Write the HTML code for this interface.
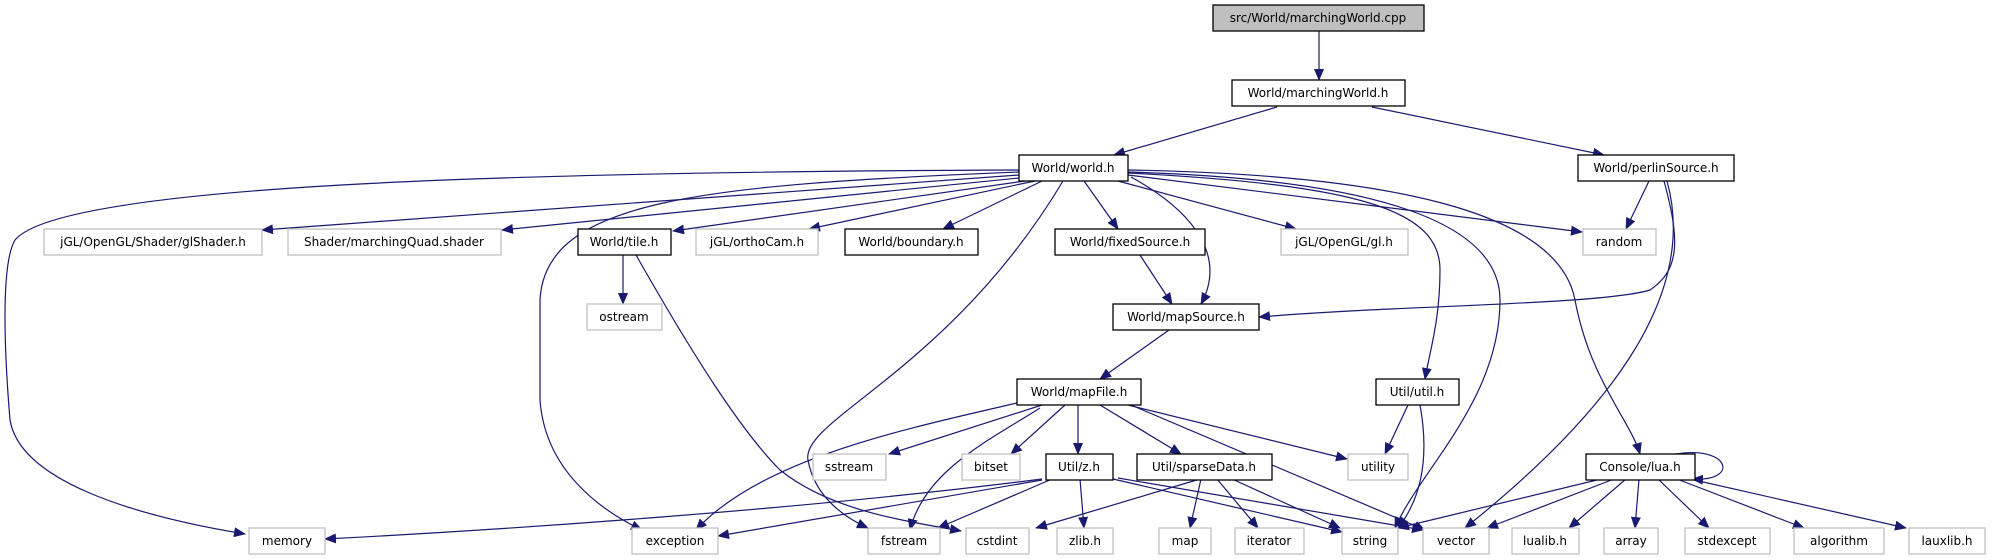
<!DOCTYPE html>
<html><head><meta charset="utf-8"><style>
html,body{margin:0;padding:0;background:#fff;}
svg{display:block;}
text{font-family:"DejaVu Sans","Liberation Sans",sans-serif;font-size:12px;fill:#000;text-anchor:middle;}
.e{fill:none;stroke:#191970;stroke-width:1.2;marker-end:url(#a);}
.n{fill:#fff;stroke:#000;stroke-width:1.3;}
.g{fill:#fff;stroke:#bfbfbf;stroke-width:1.3;}
</style></head><body>
<svg width="1993" height="560" viewBox="0 0 1993 560" xmlns="http://www.w3.org/2000/svg">
<defs><marker id="a" markerWidth="12" markerHeight="10" refX="11" refY="5" orient="auto" markerUnits="userSpaceOnUse"><path d="M0,0 L12,5 L0,10 z" fill="#191970"/></marker></defs>
<path class="e" d="M1319,31 L1319,80"/>
<path class="e" d="M1277,107 L1114,155"/>
<path class="e" d="M1372,107 L1604,155"/>
<path class="e" d="M1019,175 L262,230"/>
<path class="e" d="M1019,178 L502,230"/>
<path class="e" d="M1025,181 L673,231"/>
<path class="e" d="M1035,181 L809,229"/>
<path class="e" d="M1042,181 L943,229"/>
<path class="e" d="M1084,181 L1118,229"/>
<path class="e" d="M1118,181 L1296,229"/>
<path class="e" d="M1128,175 L1582,232"/>
<path class="e" d="M1019,170 C500,172 60,185 15,240 C0,265 5,360 10,420 C20,480 130,515 245,534"/>
<path class="e" d="M1019,172 C700,185 545,200 540,300 L540,400 C545,470 600,510 642,530"/>
<path class="e" d="M1063,181 C950,370 800,420 808,460 C815,500 850,520 868,528"/>
<path class="e" d="M1131,177 C1200,215 1225,260 1201,304"/>
<path class="e" d="M1128,173 C1360,185 1440,210 1440,270 C1440,320 1430,350 1425,379"/>
<path class="e" d="M1128,172 C1400,180 1500,230 1500,300 C1500,400 1420,470 1395,528"/>
<path class="e" d="M1128,170 C1420,175 1560,220 1575,300 C1590,380 1630,420 1640,454"/>
<path class="e" d="M1649,181 L1626,229"/>
<path class="e" d="M1664,181 C1680,240 1680,270 1650,290 C1600,305 1400,305 1259,317"/>
<path class="e" d="M1667,181 C1700,300 1600,420 1465,528"/>
<path class="e" d="M623,255 L623,304"/>
<path class="e" d="M636,255 C690,350 740,430 780,470 C830,510 900,520 961,531"/>
<path class="e" d="M1140,255 L1172,304"/>
<path class="e" d="M1169,330 L1100,379"/>
<path class="e" d="M1042,405 L889,454"/>
<path class="e" d="M1065,405 L1011,454"/>
<path class="e" d="M1078,405 L1078,454"/>
<path class="e" d="M1100,405 L1181,454"/>
<path class="e" d="M1128,405 L1347,459"/>
<path class="e" d="M1131,405 L1425,530"/>
<path class="e" d="M1017,403 C900,430 760,460 696,530"/>
<path class="e" d="M1040,408 C990,440 925,470 910,530"/>
<path class="e" d="M1042,479 C800,510 500,530 325,539"/>
<path class="e" d="M1042,480 L718,536"/>
<path class="e" d="M1052,479 L938,528"/>
<path class="e" d="M1080,479 L1084,528"/>
<path class="e" d="M1113,479 L1342,532"/>
<path class="e" d="M1118,478 L1423,530"/>
<path class="e" d="M1200,479 L1036,528"/>
<path class="e" d="M1201,479 L1190,528"/>
<path class="e" d="M1217,479 L1258,528"/>
<path class="e" d="M1232,479 L1340,528"/>
<path class="e" d="M1408,405 L1385,454"/>
<path class="e" d="M1420,405 C1430,460 1420,500 1398,528"/>
<path class="e" d="M1601,479 L1398,528"/>
<path class="e" d="M1614,479 L1487,528"/>
<path class="e" d="M1626,479 L1569,528"/>
<path class="e" d="M1639,479 L1635,528"/>
<path class="e" d="M1658,479 L1709,528"/>
<path class="e" d="M1677,479 L1804,528"/>
<path class="e" d="M1690,479 L1906,528"/>
<path class="e" d="M1676,454 C1730,445 1740,482 1692,479"/>
<rect x="1213" y="5" width="211" height="26" fill="#bfbfbf" stroke="#000" stroke-width="1.3"/><text x="1318" y="22">src/World/marchingWorld.cpp</text>
<rect class="n" x="1232" y="80" width="173" height="26"/><text x="1318" y="97">World/marchingWorld.h</text>
<rect class="n" x="1019" y="155" width="109" height="26"/><text x="1073" y="172">World/world.h</text>
<rect class="n" x="1578" y="155" width="156" height="26"/><text x="1656" y="172">World/perlinSource.h</text>
<rect class="g" x="44" y="229" width="218" height="26"/><text x="153" y="246">jGL/OpenGL/Shader/glShader.h</text>
<rect class="g" x="288" y="229" width="213" height="26"/><text x="394" y="246">Shader/marchingQuad.shader</text>
<rect class="n" x="578" y="229" width="93" height="26"/><text x="624" y="246">World/tile.h</text>
<rect class="g" x="696" y="229" width="122" height="26"/><text x="757" y="246">jGL/orthoCam.h</text>
<rect class="n" x="845" y="229" width="133" height="26"/><text x="911" y="246">World/boundary.h</text>
<rect class="n" x="1055" y="229" width="150" height="26"/><text x="1130" y="246">World/fixedSource.h</text>
<rect class="g" x="1281" y="229" width="127" height="26"/><text x="1344" y="246">jGL/OpenGL/gl.h</text>
<rect class="g" x="1583" y="229" width="73" height="26"/><text x="1619" y="246">random</text>
<rect class="g" x="587" y="304" width="75" height="26"/><text x="624" y="321">ostream</text>
<rect class="n" x="1113" y="304" width="146" height="26"/><text x="1186" y="321">World/mapSource.h</text>
<rect class="n" x="1017" y="379" width="124" height="26"/><text x="1079" y="396">World/mapFile.h</text>
<rect class="n" x="1376" y="379" width="83" height="26"/><text x="1417" y="396">Util/util.h</text>
<rect class="g" x="813" y="454" width="73" height="26"/><text x="849" y="471">sstream</text>
<rect class="g" x="962" y="454" width="58" height="26"/><text x="991" y="471">bitset</text>
<rect class="n" x="1046" y="454" width="67" height="26"/><text x="1079" y="471">Util/z.h</text>
<rect class="n" x="1137" y="454" width="135" height="26"/><text x="1204" y="471">Util/sparseData.h</text>
<rect class="g" x="1348" y="454" width="60" height="26"/><text x="1378" y="471">utility</text>
<rect class="n" x="1586" y="454" width="109" height="26"/><text x="1640" y="471">Console/lua.h</text>
<rect class="g" x="249" y="528" width="76" height="26"/><text x="287" y="545">memory</text>
<rect class="g" x="632" y="528" width="86" height="26"/><text x="675" y="545">exception</text>
<rect class="g" x="868" y="528" width="72" height="26"/><text x="904" y="545">fstream</text>
<rect class="g" x="966" y="528" width="63" height="26"/><text x="997" y="545">cstdint</text>
<rect class="g" x="1057" y="528" width="56" height="26"/><text x="1085" y="545">zlib.h</text>
<rect class="g" x="1159" y="528" width="52" height="26"/><text x="1185" y="545">map</text>
<rect class="g" x="1235" y="528" width="69" height="26"/><text x="1269" y="545">iterator</text>
<rect class="g" x="1342" y="528" width="56" height="26"/><text x="1370" y="545">string</text>
<rect class="g" x="1423" y="528" width="66" height="26"/><text x="1456" y="545">vector</text>
<rect class="g" x="1512" y="528" width="67" height="26"/><text x="1545" y="545">lualib.h</text>
<rect class="g" x="1604" y="528" width="54" height="26"/><text x="1631" y="545">array</text>
<rect class="g" x="1685" y="528" width="85" height="26"/><text x="1727" y="545">stdexcept</text>
<rect class="g" x="1794" y="528" width="90" height="26"/><text x="1839" y="545">algorithm</text>
<rect class="g" x="1909" y="528" width="76" height="26"/><text x="1947" y="545">lauxlib.h</text>
</svg>
</body></html>
